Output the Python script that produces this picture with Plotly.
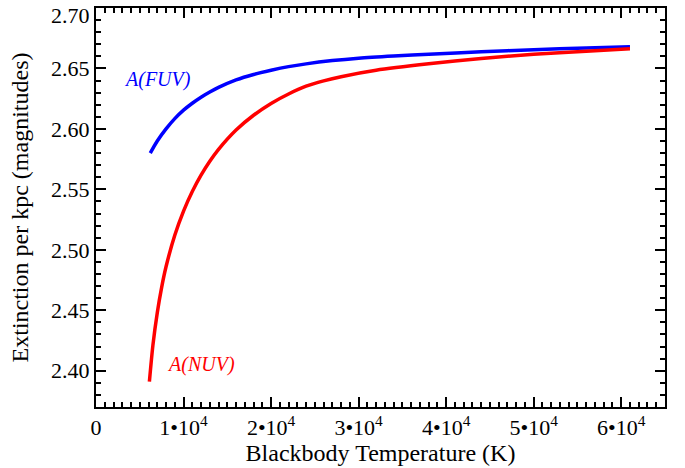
import plotly.graph_objects as go

# FUV extinction vs blackbody temperature
t_fuv = [6200, 7000, 8000, 9000, 10000, 11000, 12000, 13000, 14000, 16000, 18000,
         20000, 22000, 24000, 27000, 30000, 34000, 38000, 44000, 50000, 56000, 61000]
a_fuv = [2.580, 2.590, 2.600, 2.6085, 2.6155, 2.6212, 2.6262, 2.6305, 2.6343, 2.6405, 2.6450,
         2.6485, 2.6515, 2.6538, 2.6565, 2.6585, 2.6603, 2.6618, 2.6638, 2.6655, 2.6670, 2.668]

# NUV extinction vs blackbody temperature
t_nuv = [6100, 6500, 7000, 7500, 8000, 9000, 10000, 11000, 12000, 13000, 14000,
         16000, 18000, 20000, 22000, 24000, 26000, 28000, 32000, 38000, 44000, 50000,
         56000, 61000]
a_nuv = [2.391, 2.421, 2.448, 2.469, 2.486, 2.512, 2.532, 2.5482, 2.5617, 2.5732, 2.5831,
         2.5991, 2.6113, 2.6211, 2.6289, 2.6353, 2.6397, 2.6432, 2.6485, 2.6538, 2.6582, 2.6617,
         2.6643, 2.6662]

x_tickvals = [0, 10000, 20000, 30000, 40000, 50000, 60000]
x_ticktext = ["0", "1•10<sup>4</sup>", "2•10<sup>4</sup>", "3•10<sup>4</sup>",
              "4•10<sup>4</sup>", "5•10<sup>4</sup>", "6•10<sup>4</sup>"]
y_tickvals = [2.40, 2.45, 2.50, 2.55, 2.60, 2.65, 2.70]
y_ticktext = ["2.40", "2.45", "2.50", "2.55", "2.60", "2.65", ""]
y_top_label = "2.70"

font = "Liberation Serif"

fig = go.Figure()
fig.add_trace(go.Scatter(x=t_fuv, y=a_fuv, mode="lines",
                         line=dict(color="#0000FF", width=3.5, shape="spline", smoothing=0.8),
                         showlegend=False))
fig.add_trace(go.Scatter(x=t_nuv, y=a_nuv, mode="lines",
                         line=dict(color="#FF0000", width=3.5, shape="spline", smoothing=0.8),
                         showlegend=False))

fig.add_annotation(x=2970, y=2.641, text="<i>A(FUV)</i>", showarrow=False, xanchor="left",
                   font=dict(family=font, size=20, color="#0000FF"))
fig.add_annotation(x=7880, y=2.405, text="<i>A(NUV)</i>", showarrow=False, xanchor="left",
                   font=dict(family=font, size=20, color="#FF0000"))
# top y tick label, drawn slightly below the frame edge as in the original
fig.add_annotation(xref="paper", x=0, y=2.70, text=y_top_label, showarrow=False,
                   xanchor="right", yanchor="middle", xshift=-4, yshift=-7,
                   font=dict(family=font, size=22, color="black"))

axis_common = dict(showline=True, linecolor="black", linewidth=2, mirror="allticks",
                   ticks="inside", tickcolor="black", tickwidth=2, ticklen=10,
                   showgrid=False, zeroline=False, automargin=False,
                   tickfont=dict(family=font, size=22, color="black"))

fig.update_xaxes(range=[0, 65000], tickvals=x_tickvals, ticktext=x_ticktext,
                 title=dict(text="Blackbody Temperature (K)", font=dict(family=font, size=24, color="black"),
                            standoff=2),
                 minor=dict(dtick=1000, ticks="inside", ticklen=5, tickwidth=1.5, tickcolor="black", showgrid=False),
                 **axis_common)
fig.update_yaxes(range=[2.37, 2.70], tickvals=y_tickvals, ticktext=y_ticktext,
                 title=dict(text="Extinction per kpc (magnitudes)", font=dict(family=font, size=24, color="black"),
                            standoff=16),
                 minor=dict(dtick=0.01, tick0=2.40, ticks="inside", ticklen=5, tickwidth=1.5, tickcolor="black", showgrid=False),
                 **axis_common)

fig.update_layout(width=685, height=468, margin=dict(l=96, r=20, t=8, b=61),
                  plot_bgcolor="white", paper_bgcolor="white")

fig.write_html("out.html", config={"displayModeBar": False},
               post_script="document.body.style.margin='0';")
